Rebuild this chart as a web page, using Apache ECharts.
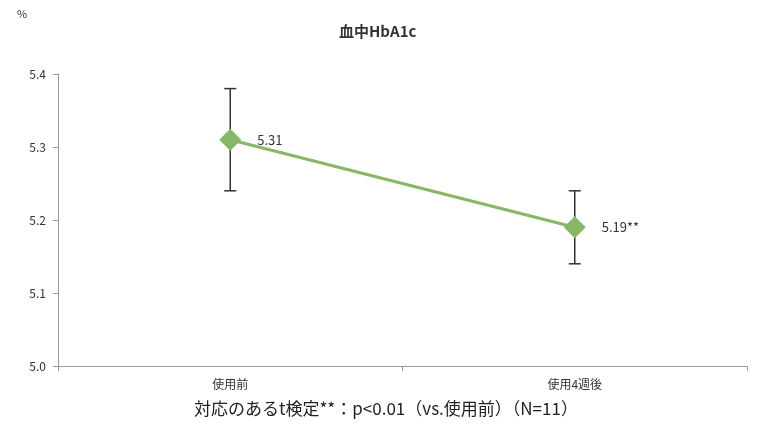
<!DOCTYPE html>
<html>
<head>
<meta charset="utf-8">
<script src="https://cdn.jsdelivr.net/npm/echarts@6/dist/echarts.min.js"></script>
<style>
  html, body { margin: 0; padding: 0; background: #fff; }
  #chart { width: 768px; height: 434px; }
</style>
</head>
<body>
<div id="chart"></div>
<script>
// data
const categories = ['使用前', '使用4週後'];
const hba1c = [5.31, 5.19];
const errLow = [5.24, 5.14];
const errHigh = [5.38, 5.24];
const pointLabels = ['5.31', '5.19**'];
const yTicks = [5.0, 5.1, 5.2, 5.3, 5.4];

const green = '#86b867';
const font = '"Noto Sans CJK JP", "Noto Sans", sans-serif';

const chart = echarts.init(document.getElementById('chart'));

const option = {
  animation: false,
  backgroundColor: '#fff',
  title: {
    text: '血中HbA1c',
    left: 334,
    top: 19,
    textStyle: { fontFamily: font, fontSize: 15, fontWeight: 'bold', color: '#333' }
  },
  graphic: [{
    type: 'text',
    left: 194,
    top: 400,
    style: {
      text: '対応のあるt検定**：p<0.01（vs.使用前）（N=11）',
      font: '17px ' + font,
      fill: '#222'
    }
  }, {
    type: 'text',
    left: 17,
    top: 8,
    style: { text: '%', font: '11px ' + font, fill: '#333' }
  }],
  grid: { left: 58, right: 21, top: 74, bottom: 68 },
  xAxis: {
    type: 'category',
    data: categories,
    boundaryGap: true,
    axisLine: { lineStyle: { color: '#999' } },
    axisTick: { show: true, alignWithLabel: false, length: 5, lineStyle: { color: '#999' } },
    axisLabel: { fontFamily: font, fontSize: 12, color: '#333', margin: 12 }
  },
  yAxis: {
    type: 'value',
    min: yTicks[0],
    max: yTicks[yTicks.length - 1],
    interval: 0.1,
    splitLine: { show: false },
    axisLine: { show: true, lineStyle: { color: '#999' } },
    axisTick: { show: true, length: 5, lineStyle: { color: '#999' } },
    axisLabel: {
      fontFamily: font, fontSize: 12, color: '#333', margin: 12,
      formatter: v => v.toFixed(1)
    }
  },
  series: [
    {
      type: 'custom',
      name: 'err',
      z: 1,
      data: categories.map((c, i) => [i, errLow[i], errHigh[i]]),
      renderItem: (params, api) => {
        const lo = api.coord([api.value(0), api.value(1)]);
        const hi = api.coord([api.value(0), api.value(2)]);
        const w = 6;
        const style = { stroke: '#333', lineWidth: 1.5 };
        return {
          type: 'group',
          children: [
            { type: 'line', shape: { x1: lo[0], y1: lo[1], x2: hi[0], y2: hi[1] }, style },
            { type: 'line', shape: { x1: lo[0] - w, y1: lo[1], x2: lo[0] + w, y2: lo[1] }, style },
            { type: 'line', shape: { x1: hi[0] - w, y1: hi[1], x2: hi[0] + w, y2: hi[1] }, style }
          ]
        };
      }
    },
    {
      type: 'line',
      name: 'HbA1c',
      z: 3,
      data: hba1c,
      symbol: 'diamond',
      symbolSize: 22,
      lineStyle: { color: green, width: 3 },
      itemStyle: { color: green },
      label: {
        show: true,
        position: 'right',
        distance: 16,
        fontFamily: font,
        fontSize: 13,
        color: '#333',
        formatter: p => pointLabels[p.dataIndex]
      }
    }
  ]
};

chart.setOption(option);
</script>
</body>
</html>
